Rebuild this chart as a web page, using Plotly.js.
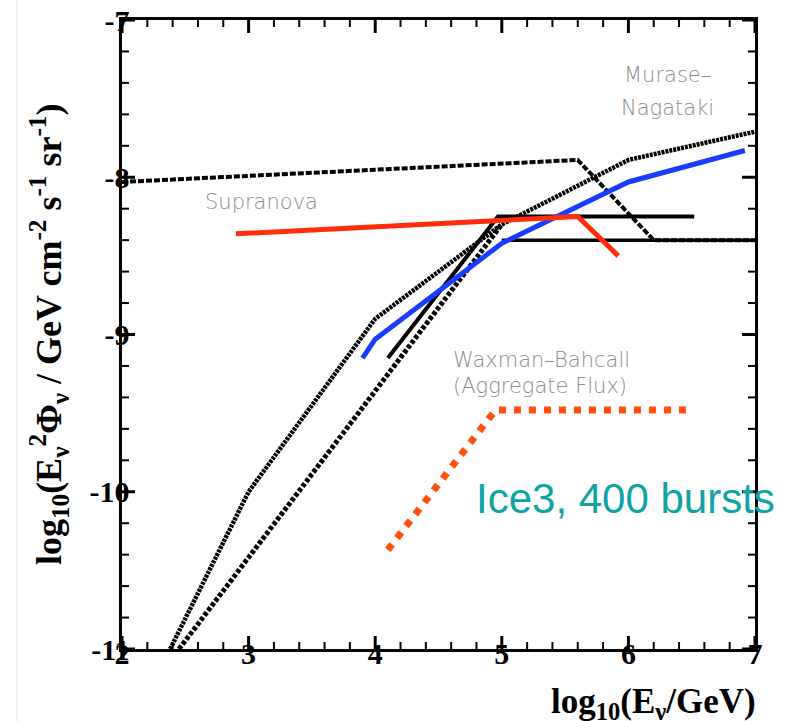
<!DOCTYPE html>
<html>
<head>
<meta charset="utf-8">
<script src="https://cdn.plot.ly/plotly-3.0.1.min.js"></script>
<style>html,body{margin:0;padding:0;background:#fff;}</style>
</head>
<body>
<div id="chart" style="width:792px;height:721px;"></div>
<script>
// ---- data (log10 E [GeV], log10 E^2 Phi) ----
const muraseX = [2.0, 5.6, 6.2, 7.0];
const muraseY = [-8.03, -7.89, -8.40, -8.40];

const upperX = [2.38, 3.0, 4.0, 5.0, 6.0, 7.0];
const upperY = [-11.0, -10.0, -8.9, -8.3, -7.89, -7.71];

const lowerX = [2.45, 5.0];
const lowerY = [-11.0, -8.30];

const shortX = [4.1, 4.97, 6.52];
const shortY = [-9.15, -8.25, -8.25];

const flatX = [5.0, 7.0];
const flatY = [-8.40, -8.40];

const blueX = [3.9, 4.0, 5.0, 6.0, 6.92];
const blueY = [-9.15, -9.03, -8.42, -8.03, -7.83];

const supraX = [2.9, 5.6, 5.92];
const supraY = [-8.36, -8.25, -8.5];

const ice3X = [4.1, 4.95, 6.5];
const ice3Y = [-10.37, -9.48, -9.48];

const xRange = [2, 7];
const yRange = [-11, -7];
const yLabelAlias = {'−7': '-7', '−8': '-8', '−9': '-9', '−10': '-10', '−11': '-11'};

// ---- traces ----
function line(x, y, color, width, dash) {
  return {x: x, y: y, type: 'scatter', mode: 'lines', hoverinfo: 'skip',
          line: {color: color, width: width, dash: dash}, showlegend: false};
}
const ice3 = line(ice3X, ice3Y, '#ff5010', 7, '7px,8px');
ice3.xaxis = 'x2';   // overlay axes carry the tick labels (same ranges as x / y)
ice3.yaxis = 'y2';
const traces = [
  line(muraseX, muraseY, '#000', 4, '6px,2px'),
  line(lowerX, lowerY, '#000', 5, '4px,2px'),
  line(upperX, upperY, '#000', 4.5, '3px,1px'),
  line(shortX, shortY, '#000', 4, 'solid'),
  line(flatX, flatY, '#000', 3.5, 'solid'),
  line(blueX, blueY, '#1a3cff', 5, 'solid'),
  line(supraX, supraY, '#ff2d0a', 5, 'solid'),
  ice3
];

// ---- inward tick marks on all four sides (major every 1, minor every 0.2) ----
const shapes = [];
const MAJ_X = 13 / 633, MIN_X = 7 / 633, MAJ_Y = 13 / 629, MIN_Y = 7 / 629;
for (let i = 0; i <= 25; i++) {
  const v = xRange[0] + i * 0.2;
  const major = i % 5 === 0;
  const len = major ? MAJ_Y : MIN_Y, w = major ? 3 : 2;
  shapes.push({type: 'line', xref: 'x', yref: 'paper', x0: v, x1: v, y0: 0, y1: len, line: {color: '#000', width: w}});
  shapes.push({type: 'line', xref: 'x', yref: 'paper', x0: v, x1: v, y0: 1, y1: 1 - len, line: {color: '#000', width: w}});
}
for (let i = 0; i <= 20; i++) {
  const v = yRange[0] + i * 0.2;
  const major = i % 5 === 0;
  const len = major ? MAJ_X : MIN_X, w = major ? 3 : 2;
  shapes.push({type: 'line', xref: 'paper', yref: 'y', x0: 0, x1: len, y0: v, y1: v, line: {color: '#000', width: w}});
  shapes.push({type: 'line', xref: 'paper', yref: 'y', x0: 1, x1: 1 - len, y0: v, y1: v, line: {color: '#000', width: w}});
}
shapes.push({type: 'line', xref: 'paper', yref: 'paper', x0: -0.166, x1: -0.166, y0: -0.115, y1: 1.032,
             line: {color: '#e6e6e6', width: 1}});

const tickFont = {family: 'Liberation Serif', size: 30, color: '#000', weight: 'bold'};
const labelFont = {family: 'DejaVu Sans', size: 21, color: '#8c8c8c', weight: 200};

const layout = {
  width: 792, height: 721,
  margin: {l: 122, r: 37, t: 20, b: 72},
  showlegend: false,
  xaxis: {range: xRange, ticks: '', showticklabels: false, showline: true, linewidth: 3,
          linecolor: '#000', mirror: true, showgrid: false, zeroline: false},
  yaxis: {range: yRange, ticks: '', showticklabels: false, showline: true, linewidth: 3,
          linecolor: '#000', mirror: true, showgrid: false, zeroline: false},
  xaxis2: {range: xRange, overlaying: 'x', anchor: 'free', position: 0.025, dtick: 1,
           ticks: '', showline: false, showgrid: false, zeroline: false, tickfont: tickFont},
  yaxis2: {range: yRange, overlaying: 'y', anchor: 'free', position: 0.012, dtick: 1,
           labelalias: yLabelAlias, ticks: '', showline: false, showgrid: false, zeroline: false,
           tickfont: tickFont},
  shapes: shapes,
  annotations: [
    {xref: 'paper', yref: 'paper', x: -0.116, y: 0.5, textangle: -90, showarrow: false,
     xanchor: 'center', yanchor: 'middle',
     text: 'log<sub>10</sub>(E<sub>ν</sub><sup>2</sup>Φ<sub>ν</sub> / GeV cm<sup>-2</sup> s<sup>-1</sup> sr<sup>-1</sup>)',
     font: {family: 'Liberation Serif', size: 36, color: '#000', weight: 'bold'}},
    {xref: 'paper', yref: 'paper', x: 1.004, y: -0.086, showarrow: false,
     xanchor: 'right', yanchor: 'middle',
     text: 'log<sub>10</sub>(E<sub>ν</sub>/GeV)',
     font: {family: 'Liberation Serif', size: 35, color: '#000', weight: 'bold'}},
    {x: 6.31, y: -7.35, text: 'Murase–', showarrow: false, font: labelFont},
    {x: 6.31, y: -7.56, text: 'Nagataki', showarrow: false, font: labelFont},
    {x: 3.1, y: -8.16, text: 'Supranova', showarrow: false, font: labelFont},
    {x: 4.6, y: -9.16, xanchor: 'left', text: 'Waxman–Bahcall', showarrow: false, font: labelFont},
    {x: 4.6, y: -9.33, xanchor: 'left', text: '(Aggregate Flux)', showarrow: false, font: labelFont},
    {x: 4.78, y: -10.04, xanchor: 'left', text: 'Ice3, 400 bursts', showarrow: false,
     font: {family: 'Liberation Sans', size: 42, color: '#0fa3a3'}}
  ]
};

Plotly.newPlot('chart', traces, layout, {displayModeBar: false, staticPlot: true});
</script>
</body>
</html>
